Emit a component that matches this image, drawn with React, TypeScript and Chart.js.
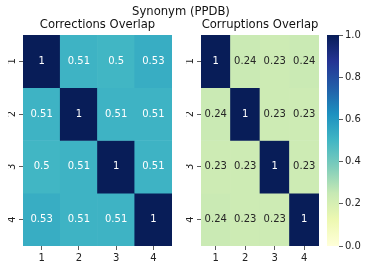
import React, { useEffect, useRef } from 'react';
import { Chart, registerables } from 'chart.js';

Chart.register(...registerables);

// ---------------- data ----------------
const mainTitle = 'Synonym (PPDB)';
const leftTitle = 'Corrections Overlap';
const rightTitle = 'Corruptions Overlap';
const rowLabels = ['1', '2', '3', '4'];
const colLabels = ['1', '2', '3', '4'];
const correctionsOverlap = [
  [1, 0.51, 0.5, 0.53],
  [0.51, 1, 0.51, 0.51],
  [0.5, 0.51, 1, 0.51],
  [0.53, 0.51, 0.51, 1],
];
const corruptionsOverlap = [
  [1, 0.24, 0.23, 0.24],
  [0.24, 1, 0.23, 0.23],
  [0.23, 0.23, 1, 0.23],
  [0.24, 0.23, 0.23, 1],
];
const colorbarTicks = [0, 0.2, 0.4, 0.6, 0.8, 1.0];
const vMin = 0;
const vMax = 1;

// ---------------- style ----------------
const W = 367;
const H = 270;
const FONT = 'DejaVu Sans';
const TEXT = '#222';
const TICK = '#333';
const YLGNBU = ['#ffffd9', '#edf8b1', '#c7e9b4', '#7fcdbb', '#41b6c4', '#1d91c0', '#225ea8', '#253494', '#081d58'];
const AREA_TOP = 35;
const AREA_BOTTOM = 246;
const Y_AXIS_W = 15;
const X_AXIS_H = 20;

function hexToRgb(h: string) {
  return [parseInt(h.slice(1, 3), 16), parseInt(h.slice(3, 5), 16), parseInt(h.slice(5, 7), 16)];
}
function cmapRgb(v: number) {
  let t = (v - vMin) / (vMax - vMin);
  t = Math.max(0, Math.min(1, t));
  const pos = t * (YLGNBU.length - 1);
  const i = Math.min(YLGNBU.length - 2, Math.floor(pos));
  const f = pos - i;
  const a = hexToRgb(YLGNBU[i]);
  const b = hexToRgb(YLGNBU[i + 1]);
  return a.map((c, k) => Math.round(c + (b[k] - c) * f));
}
function cmap(v: number) {
  const [r, g, b] = cmapRgb(v);
  return `rgb(${r},${g},${b})`;
}
function textColorFor(v: number) {
  const lin = cmapRgb(v).map((c) => {
    const s = c / 255;
    return s <= 0.03928 ? s / 12.92 : Math.pow((s + 0.055) / 1.055, 2.4);
  });
  const lum = 0.2126 * lin[0] + 0.7152 * lin[1] + 0.0722 * lin[2];
  return lum > 0.408 ? '#262626' : '#ffffff';
}
function fmt(v: number) {
  return String(Number(v.toPrecision(2)));
}

function annotatePlugin(matrix: number[][]) {
  return {
    id: 'annotate',
    afterDatasetsDraw(chart: any) {
      const ctx = chart.ctx;
      ctx.save();
      ctx.font = `10px "${FONT}"`;
      ctx.textAlign = 'center';
      ctx.textBaseline = 'middle';
      matrix.forEach((row, r) => {
        const meta = chart.getDatasetMeta(r);
        meta.data.forEach((bar: any, c: number) => {
          const { x, y, base } = bar.getProps(['x', 'y', 'base'], true);
          const v = row[c];
          ctx.fillStyle = textColorFor(v);
          ctx.fillText(fmt(v), x, (y + base) / 2);
        });
      });
      ctx.restore();
    },
  };
}

function heatmapConfig(matrix: number[][], areaLeft: number, areaRight: number): any {
  return {
    type: 'bar',
    data: {
      labels: colLabels,
      datasets: rowLabels.map((r, ri) => ({
        label: r,
        data: colLabels.map(() => 1),
        backgroundColor: matrix[ri].map(cmap),
        borderWidth: 0,
        barPercentage: 1,
        categoryPercentage: 1,
      })),
    },
    options: {
      responsive: false,
      animation: false,
      events: [],
      layout: {
        padding: {
          left: areaLeft - Y_AXIS_W,
          right: W - areaRight,
          top: AREA_TOP,
          bottom: H - AREA_BOTTOM - X_AXIS_H,
        },
      },
      plugins: { legend: { display: false }, tooltip: { enabled: false }, title: { display: false } },
      scales: {
        x: {
          type: 'category',
          stacked: true,
          offset: true,
          border: { display: false },
          grid: { offset: false, drawOnChartArea: false, drawTicks: true, tickLength: 4, color: TICK, lineWidth: 0.8 },
          ticks: { color: TEXT, font: { family: FONT, size: 10 }, padding: 2, maxRotation: 0, minRotation: 0 },
          afterFit: (s: any) => {
            s.height = X_AXIS_H;
          },
        },
        y: {
          type: 'linear',
          stacked: true,
          reverse: true,
          min: 0,
          max: rowLabels.length,
          border: { display: false },
          grid: { drawOnChartArea: false, drawTicks: true, tickLength: 4, color: TICK, lineWidth: 0.8 },
          afterBuildTicks: (s: any) => {
            s.ticks = rowLabels.map((_, i) => ({ value: i + 0.5 }));
          },
          ticks: {
            color: TEXT,
            font: { family: FONT, size: 10 },
            minRotation: 90,
            maxRotation: 90,
            crossAlign: 'center',
            padding: 3,
            callback: (v: number) => rowLabels[Math.floor(v)],
          },
          afterFit: (s: any) => {
            s.width = Y_AXIS_W;
          },
        },
      },
    },
    plugins: [annotatePlugin(matrix)],
  };
}

function colorbarConfig(): any {
  const CB_LEFT = 327;
  const CB_RIGHT = 339;
  const CB_AXIS_W = 28;
  return {
    type: 'bar',
    data: {
      labels: [''],
      datasets: [
        {
          data: [vMax],
          base: vMin,
          borderWidth: 0,
          barPercentage: 1,
          categoryPercentage: 1,
          backgroundColor: (ctx: any) => {
            const ca = ctx.chart.chartArea;
            if (!ca) return YLGNBU[0];
            const g = ctx.chart.ctx.createLinearGradient(0, ca.bottom, 0, ca.top);
            YLGNBU.forEach((c, i) => g.addColorStop(i / (YLGNBU.length - 1), c));
            return g;
          },
        },
      ],
    },
    options: {
      responsive: false,
      animation: false,
      events: [],
      layout: {
        padding: { left: CB_LEFT, right: W - CB_RIGHT - CB_AXIS_W, top: AREA_TOP, bottom: H - AREA_BOTTOM },
      },
      plugins: { legend: { display: false }, tooltip: { enabled: false } },
      scales: {
        x: { display: false, offset: true },
        y: {
          position: 'right',
          min: vMin,
          max: vMax,
          border: { display: false },
          grid: { drawOnChartArea: false, drawTicks: true, tickLength: 4, color: TICK, lineWidth: 0.8 },
          afterBuildTicks: (s: any) => {
            s.ticks = colorbarTicks.map((v) => ({ value: v }));
          },
          ticks: {
            color: TEXT,
            font: { family: FONT, size: 10 },
            padding: 2,
            callback: (v: number) => v.toFixed(1),
          },
          afterFit: (s: any) => {
            s.width = CB_AXIS_W;
          },
        },
      },
    },
  };
}

function ChartCanvas({ config }: { config: () => any }) {
  const ref = useRef<HTMLCanvasElement | null>(null);
  useEffect(() => {
    if (!ref.current) return;
    const chart = new Chart(ref.current, config());
    return () => chart.destroy();
  }, []);
  return (
    <canvas
      ref={ref}
      width={W}
      height={H}
      style={{ position: 'absolute', left: 0, top: 0, width: W, height: H }}
    />
  );
}

const titleStyle = (cx: number, top: number, size: number): React.CSSProperties => ({
  position: 'absolute',
  left: cx - 120,
  width: 240,
  top,
  textAlign: 'center',
  fontFamily: FONT,
  fontSize: size,
  lineHeight: 1,
  color: '#111',
  whiteSpace: 'nowrap',
});

export default function App() {
  return (
    <div
      style={{ position: 'fixed', left: 0, top: 0, width: W, height: H, background: '#fff', overflow: 'hidden' }}
    >
      <ChartCanvas config={() => heatmapConfig(correctionsOverlap, 23, 172)} />
      <ChartCanvas config={() => heatmapConfig(corruptionsOverlap, 201, 319)} />
      <ChartCanvas config={colorbarConfig} />
      <div style={titleStyle(181, 6.3, 11.6)}>{mainTitle}</div>
      <div style={titleStyle(97.5, 19.3, 11.6)}>{leftTitle}</div>
      <div style={titleStyle(260, 19.3, 11.6)}>{rightTitle}</div>
    </div>
  );
}
